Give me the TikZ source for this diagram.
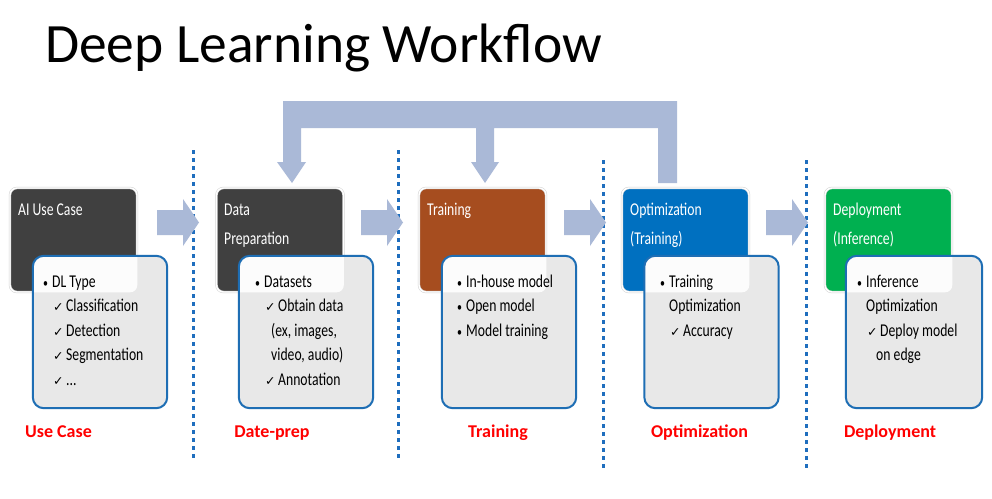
\documentclass[tikz,border=0pt]{standalone}
\usepackage{fontspec}
\setmainfont{Carlito}
\newfontfamily\narrowfont{Carlito}[FakeStretch=0.76]
\newfontfamily\ckfont{DejaVu Sans}
\usepackage{tikz}
\usetikzlibrary{shapes,arrows,positioning}

\definecolor{stagegray}{RGB}{64,64,64}
\definecolor{stagebrown}{RGB}{166,77,31}
\definecolor{stageblue}{RGB}{0,112,192}
\definecolor{stagegreen}{RGB}{0,176,80}
\definecolor{flowblue}{RGB}{170,185,215}
\definecolor{detailblue}{RGB}{30,110,180}
\definecolor{detailgray}{RGB}{232,232,232}
\definecolor{sepblue}{RGB}{31,110,190}

\newcommand{\itm}[1]{\makebox[9pt][l]{\fontsize{13}{13}\selectfont\textbullet}#1}
\newcommand{\chk}[1]{\hspace*{10pt}\makebox[13pt][l]{\ckfont\fontsize{12.5}{12.5}\selectfont ✓}#1}

\begin{document}
\begin{tikzpicture}[x=1pt, y=-1pt]
			\tikzstyle{Stage}	= [rectangle, rounded corners=7pt, minimum width=127pt, minimum height=104pt, inner sep=0pt, draw=gray!35, line width=0.5pt, double=white, double distance=1.4pt]
			\tikzstyle{Detail}	= [rectangle, rounded corners=11pt, minimum width=134pt, minimum height=152pt, inner sep=0pt, fill=detailgray]
			\tikzstyle{Rim}		= [rounded corners=11pt, draw=detailblue, line width=2pt]
			\tikzstyle{Head}	= [font=\narrowfont\fontsize{18}{29}\selectfont, text=white, align=left, inner sep=0pt, anchor=base west]
			\tikzstyle{Item}	= [font=\narrowfont\fontsize{18}{24.5}\selectfont, text=black, align=left, inner sep=0pt, anchor=base west]
			\tikzstyle{Phase}	= [font=\bfseries\fontsize{18}{20}\selectfont, text=red, inner sep=0pt, anchor=base]
			\tikzstyle{Flow}	= [fill=flowblue]
			\tikzstyle{Sep}		= [sepblue, line width=3pt, dash pattern=on 3.5pt off 4.5pt]

			\path [fill=white] (0,0) rectangle (992,498);

			\node (title) at (45,62) [anchor=base west, inner sep=0pt, font=\fontsize{55.5}{60}\selectfont] {Deep Learning Workflow};

			% feedback loop
			\path [Flow] (677,183) -- (677,101) -- (283,101) -- (283,162) -- (277,162) -- (292,183) -- (306,162) -- (301,162) -- (301,128)
				-- (476,128) -- (476,162) -- (471,162) -- (485,183) -- (499,162) -- (494,162) -- (494,128) -- (658,128) -- (658,183) -- cycle;

			\draw [-] (193,150) to (193,462) [Sep];
			\draw [-] (398,150) to (398,462) [Sep];
			\draw [-] (603,160) to (603,472) [Sep];
			\draw [-] (806,160) to (806,472) [Sep];

			\node (uc) at (73.5,240) [Stage, fill=stagegray] {};
			\node (dp) at (280,240) [Stage, fill=stagegray] {};
			\node (tr) at (482.5,240) [Stage, fill=stagebrown] {};
			\node (op) at (685.5,240) [Stage, fill=stageblue] {};
			\node (de) at (888.5,240) [Stage, fill=stagegreen] {};

			% step arrows
			\foreach \x in {157,361,564,766}
				\path [Flow, shift={(\x,222.5)}] (0,-12.5) -- (26,-12.5) -- (26,-23.5) -- (42,0) -- (26,23.5) -- (26,12.5) -- (0,12.5) -- cycle;

			\node (ucD) at (100,332) [Detail] {};
			\node (dpD) at (306,332) [Detail] {};
			\node (trD) at (509,332) [Detail] {};
			\node (opD) at (711.5,332) [Detail] {};
			\node (deD) at (914,332) [Detail, minimum width=136pt] {};

			% light tint where a panel lies over its stage box
			\foreach \s/\d in {uc/ucD, dp/dpD, tr/trD, op/opD, de/deD} {
				\begin{scope}
					\clip [rounded corners=7pt] (\s.north west) rectangle (\s.south east);
					\fill [white, opacity=0.88, rounded corners=11pt] (\d.north west) rectangle (\d.south east);
				\end{scope}
				\draw [Rim] (\d.north west) rectangle (\d.south east);
			}

			\node (ucH) at (18,215) [Head] {AI Use Case};
			\node (dpH) at (224,244) [Head] {Data\\Preparation};
			\node (trH) at (427,215) [Head] {Training};
			\node (opH) at (630,244) [Head] {Optimization\\(Training)};
			\node (deH) at (833,244) [Head] {Deployment\\(Inference)};

			\node (ucT) at (43,385) [Item] {\itm{DL Type}\\ \chk{Classification}\\ \chk{Detection}\\ \chk{Segmentation}\\ \chk{...}};
			\node (dpT) at (255,385) [Item] {\itm{Datasets}\\ \chk{Obtain data}\\ \hspace*{16pt}(ex, images,\\ \hspace*{16pt}video, audio)\\ \chk{Annotation}};
			\node (trT) at (457,336) [Item] {\itm{In-house model}\\ \itm{Open model}\\ \itm{Model training}};
			\node (opT) at (660,336) [Item] {\itm{Training}\\ \hspace*{9pt}Optimization\\ \chk{Accuracy}};
			\node (deT) at (857,360.5) [Item] {\itm{Inference}\\ \hspace*{9pt}Optimization\\ \chk{Deploy model}\\ \hspace*{19pt}on edge};

			\node (ucP) at (58.5,437) [Phase] {Use Case};
			\node (dpP) at (272,437) [Phase] {Date-prep};
			\node (trP) at (498,437) [Phase] {Training};
			\node (opP) at (699.5,437) [Phase] {Optimization};
			\node (deP) at (890,437) [Phase] {Deployment};
		\end{tikzpicture}
\end{document}
